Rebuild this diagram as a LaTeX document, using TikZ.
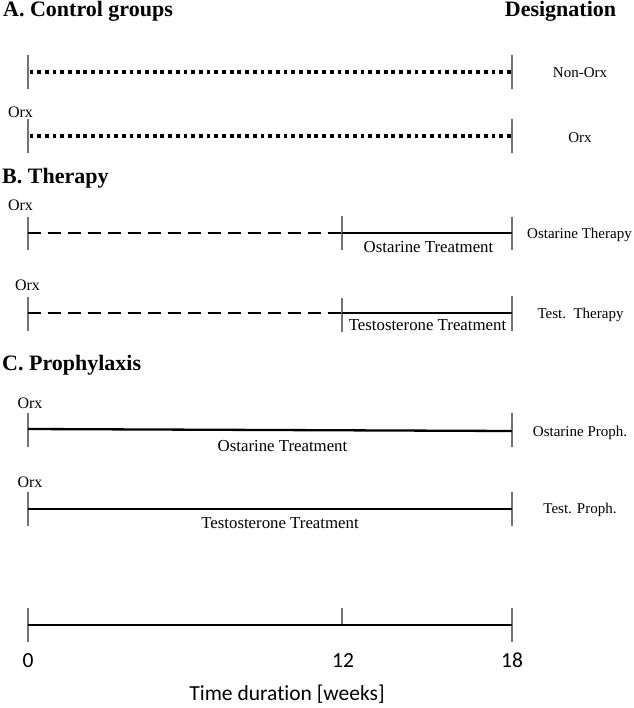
\documentclass[tikz,border=0pt]{standalone}
\usepackage{fontspec}
\setmainfont{Liberation Serif}
\newfontfamily\axisfont[Ligatures=NoCommon]{Carlito}
\begin{document}
\begin{tikzpicture}[x=1pt,y=-1pt,
  tickline/.style={draw=black!55, line width=1.1pt},
  dotline/.style={line width=3.4pt, dash pattern=on 3.8pt off 3.9pt},
  dashline/.style={line width=2.3pt, dash pattern=on 13pt off 7pt},
  solidline/.style={line width=2.3pt},
  header/.style={font=\fontsize{22}{24}\selectfont\bfseries, inner sep=0pt, anchor=base west},
  desig/.style={font=\fontsize{15}{17}\selectfont, inner sep=0pt, anchor=base},
  orx/.style={font=\fontsize{16}{18}\selectfont, inner sep=0pt, anchor=base},
  treat/.style={font=\fontsize{16.8}{19}\selectfont, inner sep=0pt, anchor=base},
  axislbl/.style={font=\axisfont\fontsize{21.5}{24}\selectfont, inner sep=0pt, anchor=base}
]
\useasboundingbox (0,0) rectangle (633,708);

% headers
\node[header] (hA) at (3,17) {A. Control groups};
\node[header, anchor=base] (hD) at (560.5,17) {Designation};
\node[header] (hB) at (2,184) {B. Therapy};
\node[header] (hC) at (2,370.5) {C. Prophylaxis};

% Row 1: Non-Orx
\coordinate (r1L) at (28,72); \coordinate (r1R) at (512,72);
\draw[tickline] (28,55) -- (28,89);
\draw[tickline] (512,55) -- (512,89);
\draw[dotline] (r1L) ++(1.5,0) -- (r1R);
\node[desig] (d1) at (580,78) {Non-Orx};

% Row 2: Orx
\coordinate (r2L) at (28,136); \coordinate (r2R) at (512,136);
\draw[tickline] (28,119) -- (28,153);
\draw[tickline] (512,119) -- (512,153);
\draw[dotline] (r2L) ++(1.5,0) -- (r2R);
\node[orx] (o2) at (20.5,118) {Orx};
\node[desig] (d2) at (580,143) {Orx};

% Row 3: Ostarine Therapy
\coordinate (r3L) at (28,233); \coordinate (r3M) at (342,233); \coordinate (r3R) at (512,233);
\draw[tickline] (28,217) -- (28,250);
\draw[tickline] (342,216) -- (342,250);
\draw[tickline] (512,217) -- (512,250);
\draw[dashline] (r3L) -- (r3M);
\draw[solidline] (r3M) -- (r3R);
\node[orx] (o3) at (20.5,211) {Orx};
\node[treat] (t3) at (428.5,252.5) {Ostarine Treatment};
\node[desig] (d3) at (579.5,239) {Ostarine Therapy};

% Row 4: Test. Therapy
\coordinate (r4L) at (28,313); \coordinate (r4M) at (342,313); \coordinate (r4R) at (512,313);
\draw[tickline] (28,297) -- (28,331);
\draw[tickline] (342,298) -- (342,332);
\draw[tickline] (512,296) -- (512,331);
\draw[dashline] (r4L) -- (r4M);
\draw[solidline] (r4M) -- (r4R);
\node[orx] (o4) at (27.5,290) {Orx};
\node[treat] (t4) at (427.5,330.5) {Testosterone Treatment};
\node[desig] (d4) at (580.5,318) {Test.\ \ Therapy};

% Row 5: Ostarine Proph.
\coordinate (r5L) at (28,429); \coordinate (r5R) at (512,431);
\draw[tickline] (28,413) -- (28,447);
\draw[tickline] (512,413) -- (512,447);
\draw[solidline] (r5L) -- (r5R);
\node[orx] (o5) at (30,408) {Orx};
\node[treat] (t5) at (282.5,451) {Ostarine Treatment};
\node[desig] (d5) at (580,436) {Ostarine Proph.};

% Row 6: Test. Proph.
\coordinate (r6L) at (28,509); \coordinate (r6R) at (512,509);
\draw[tickline] (28,492) -- (28,526);
\draw[tickline] (512,492) -- (512,526);
\draw[solidline] (r6L) -- (r6R);
\node[orx] (o6) at (30,487) {Orx};
\node[treat] (t6) at (280,528.5) {Testosterone Treatment};
\node[desig] (d6) at (580,513) {Test. Proph.};

% Time axis
\coordinate (aL) at (28,625); \coordinate (aM) at (342,625); \coordinate (aR) at (512,625);
\draw[tickline] (28,608) -- (28,642);
\draw[tickline] (342,608) -- (aM);
\draw[tickline] (512,608) -- (512,642);
\draw[solidline] (aL) -- (aR);
\node[axislbl] (n0) at (28,667) {0};
\node[axislbl] (n12) at (343,667) {12};
\node[axislbl] (n18) at (512,667) {18};
\node[axislbl] (tl) at (287,700) {Time duration [weeks]};
\end{tikzpicture}
\end{document}
